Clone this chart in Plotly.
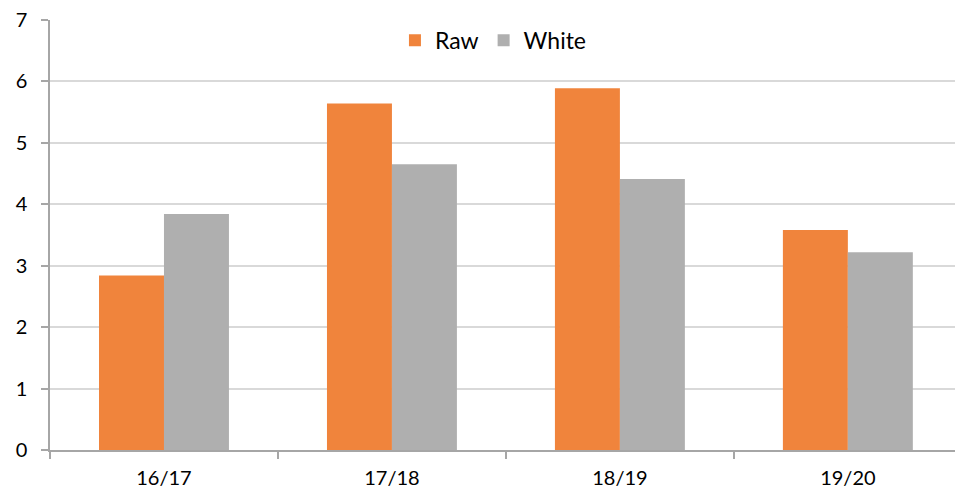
import plotly.graph_objects as go

categories = ["16/17", "17/18", "18/19", "19/20"]
raw_values = [2.84, 5.64, 5.89, 3.58]
white_values = [3.84, 4.65, 4.41, 3.22]

fig = go.Figure()
fig.add_trace(go.Bar(name="Raw", x=categories, y=raw_values,
                     marker=dict(color="#F0843C", line=dict(width=0))))
fig.add_trace(go.Bar(name="White", x=categories, y=white_values,
                     marker=dict(color="#AFAFAF", line=dict(width=0))))

fig.update_layout(
    width=955, height=492,
    margin=dict(l=50, r=0, t=20, b=42),
    barmode="group", bargap=0.43, bargroupgap=0,
    plot_bgcolor="white", paper_bgcolor="white",
    font=dict(family="Lato, Carlito, Calibri, sans-serif", size=20, color="#000000"),
    legend=dict(orientation="h", x=0.49, xanchor="center", y=0.953, yanchor="middle",
                font=dict(size=23), bgcolor="rgba(0,0,0,0)"),
    xaxis=dict(range=[-0.5, 3.47], showline=True, linecolor="#A6A6A6", linewidth=1.5,
               ticks="outside", tickson="boundaries", ticklen=7, tickcolor="#A6A6A6",
               tickwidth=1.5, showgrid=False, tickfont=dict(size=20),
               ticklabelstandoff=9),
    yaxis=dict(range=[0, 7], dtick=1, showline=True, linecolor="#A6A6A6", linewidth=1.5,
               ticks="outside", ticklen=7, tickcolor="#A6A6A6", tickwidth=1.5,
               showgrid=True, gridcolor="#D9D9D9", gridwidth=1.5, zeroline=False,
               ticklabelstandoff=10, tickfont=dict(size=20)),
)

fig.write_html("out.html")
